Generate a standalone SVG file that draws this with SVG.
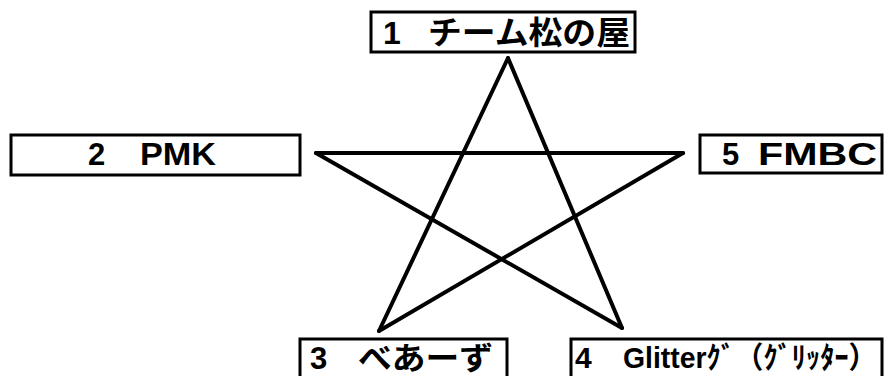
<svg xmlns="http://www.w3.org/2000/svg" width="884" height="376" viewBox="0 0 884 376">
<style>
.box{fill:#fff;stroke:#000;stroke-width:3}
.t{font-family:"Liberation Sans","Noto Sans CJK JP",sans-serif;font-weight:bold;fill:#000}
.star{stroke:#000;stroke-width:4;stroke-linecap:round;fill:none}
</style>
<rect width="884" height="376" fill="#fff"/>
<g id="connectors">
<line class="star" x1="508" y1="58" x2="379" y2="331"/>
<line class="star" x1="508" y1="58" x2="622" y2="328"/>
<line class="star" x1="316" y1="153" x2="683" y2="153"/>
<line class="star" x1="316" y1="153" x2="622" y2="328"/>
<line class="star" x1="683" y1="153" x2="379" y2="331"/>
</g>
<g id="n1">
<rect class="box" x="371" y="12" width="264" height="40"/>
<text class="t" font-size="32" y="44"><tspan x="383">1</tspan><tspan x="428" textLength="202" lengthAdjust="spacingAndGlyphs">チーム松の屋</tspan></text>
</g>
<g id="n2">
<rect class="box" x="11" y="135" width="289" height="40"/>
<text class="t" font-size="31" y="165"><tspan x="88">2</tspan><tspan x="140" textLength="76" lengthAdjust="spacingAndGlyphs">PMK</tspan></text>
</g>
<g id="n5">
<rect class="box" x="700" y="135" width="182" height="38"/>
<text class="t" font-size="31" y="165"><tspan x="722">5</tspan><tspan x="758" textLength="119" lengthAdjust="spacingAndGlyphs">FMBC</tspan></text>
</g>
<g id="n3">
<rect class="box" x="300" y="339" width="207" height="50"/>
<text class="t" font-size="31" y="369"><tspan x="310">3</tspan><tspan x="358" textLength="135" lengthAdjust="spacingAndGlyphs">べあーず</tspan></text>
</g>
<g id="n4">
<rect class="box" x="571" y="339" width="311" height="50"/>
<text class="t" font-size="30" y="368"><tspan x="575">4</tspan><tspan x="623" textLength="254" lengthAdjust="spacingAndGlyphs">Glitterｸﾞ（ｸﾞﾘｯﾀｰ）</tspan></text>
</g>
</svg>
